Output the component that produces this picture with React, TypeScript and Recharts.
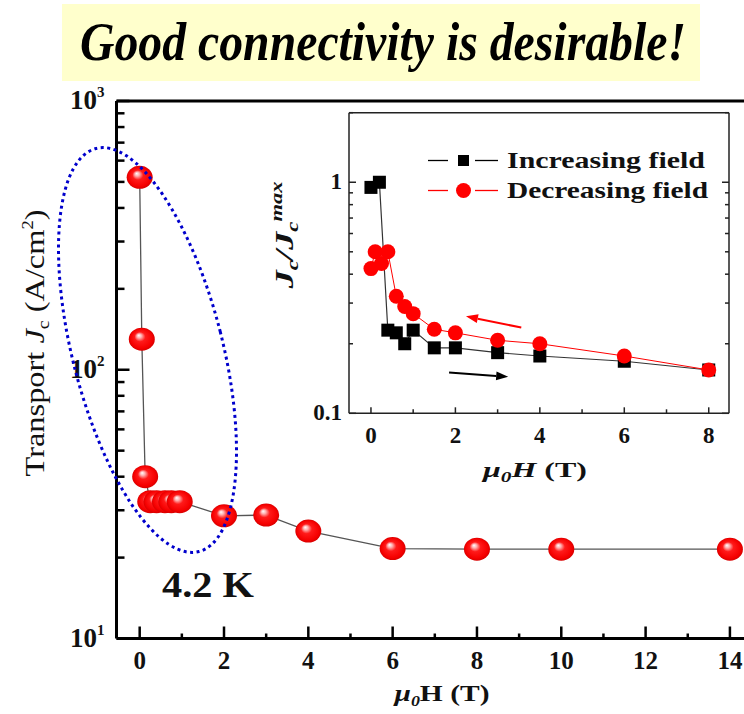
import React from 'react';
import { ScatterChart, Scatter, XAxis, YAxis, ReferenceLine } from 'recharts';

const SERIF = '"Liberation Serif", "Times New Roman", serif';

// main panel: transport Jc vs field at 4.2 K
const fieldT = [0, 0.05, 0.13, 0.25, 0.4, 0.6, 0.75, 0.95, 2, 3, 4, 6, 8, 10, 14];
const jcTransport = [520, 130, 40, 32.3, 32.3, 32.3, 32.3, 32.3, 28.6, 28.8, 25.1, 21.6, 21.5, 21.5, 21.5];
const mainXTicks = [0, 1, 2, 3, 4, 5, 6, 7, 8, 9, 10, 11, 12, 13, 14];
const mainYTicks = [10, 20, 30, 40, 50, 60, 70, 80, 90, 100, 200, 300, 400, 500, 600, 700, 800, 900, 1000];

// inset: Jc / Jc max
const incField = [0, 0.2, 0.4, 0.6, 0.8, 1, 1.5, 2, 3, 4, 6, 8];
const incRatio = [0.95, 1.0, 0.229, 0.223, 0.2, 0.229, 0.192, 0.192, 0.183, 0.177, 0.168, 0.154];
const decField = [0, 0.1, 0.25, 0.4, 0.6, 0.8, 1, 1.5, 2, 3, 4, 6, 8];
const decRatio = [0.423, 0.5, 0.445, 0.5, 0.321, 0.29, 0.27, 0.231, 0.223, 0.207, 0.2, 0.177, 0.154];
const insetXTicks = [0, 1, 2, 3, 4, 5, 6, 7, 8];
const insetYTicks = [0.1, 0.2, 0.3, 0.4, 0.5, 0.6, 0.7, 0.8, 0.9, 1, 2];

// sweep arrows (tail -> head)
const decArrowX = [3.56, 2.25];
const decArrowY = [0.235, 0.263];
const incArrowX = [1.85, 3.25];
const incArrowY = [0.15, 0.144];

function MainXTick(p: any) {
  const { x, y, payload } = p;
  const major = payload.value % 2 === 0;
  return (
    <g>
      <line x1={x} x2={x} y1={y} y2={y - (major ? 12 : 5)} stroke="#000" strokeWidth={2.5} />
      {major && (
        <text x={x} y={y + 30} textAnchor="middle" fontFamily={SERIF} fontWeight="bold" fontSize={25} fill="#111">
          {payload.value}
        </text>
      )}
    </g>
  );
}

function MainYTick(p: any) {
  const { x, y, payload } = p;
  const exp = Math.log10(payload.value);
  const major = Math.abs(exp - Math.round(exp)) < 1e-6;
  return (
    <g>
      <line x1={x} x2={x + (major ? 13 : 8)} y1={y} y2={y} stroke="#000" strokeWidth={2.5} />
      {major && (
        <text x={x - 12} y={y + 8} textAnchor="end" fontFamily={SERIF} fontWeight="bold" fontSize={27} fill="#111">
          10
          <tspan fontSize={15} dy={-12}>
            {Math.round(exp)}
          </tspan>
        </text>
      )}
    </g>
  );
}

function InsetXTick(p: any) {
  const { x, y, payload } = p;
  const major = payload.value % 2 === 0;
  return (
    <g>
      <line x1={x} x2={x} y1={y} y2={y - (major ? 6 : 4)} stroke="#222" strokeWidth={1.5} />
      {major && (
        <text x={x} y={y + 30} textAnchor="middle" fontFamily={SERIF} fontWeight="bold" fontSize={23} fill="#111">
          {payload.value}
        </text>
      )}
    </g>
  );
}

function InsetTopTick(p: any) {
  const { x, y } = p;
  return <line x1={x} x2={x} y1={y} y2={y + 6} stroke="#222" strokeWidth={1.5} />;
}

function InsetYTick(p: any) {
  const { x, y, payload } = p;
  const major = payload.value === 0.1 || payload.value === 1;
  return (
    <g>
      <line x1={x} x2={x + (major ? 7 : 4)} y1={y} y2={y} stroke="#222" strokeWidth={1.5} />
      {major && (
        <text x={x - 7} y={y + 7} textAnchor="end" fontFamily={SERIF} fontWeight="bold" fontSize={23} fill="#111">
          {payload.value}
        </text>
      )}
    </g>
  );
}

function InsetRightTick(p: any) {
  const { x, y, payload } = p;
  const major = payload.value === 0.1 || payload.value === 1;
  return <line x1={x} x2={x - (major ? 7 : 4)} y1={y} y2={y} stroke="#222" strokeWidth={1.5} />;
}

function Sphere(p: any) {
  return <ellipse cx={p.cx} cy={p.cy} rx={13} ry={11.5} fill="url(#sphereGrad)" />;
}

function Square(p: any) {
  return <rect x={p.cx - 6.5} y={p.cy - 6.5} width={13} height={13} fill="#000" />;
}

function Dot(p: any) {
  return <circle cx={p.cx} cy={p.cy} r={7.5} fill="#ff0000" />;
}

function Arrow(p: any) {
  const { x1, y1, x2, y2, stroke } = p;
  const a = Math.atan2(y2 - y1, x2 - x1);
  const L = 12;
  const W = 4.5;
  const bx = x2 - L * Math.cos(a);
  const by = y2 - L * Math.sin(a);
  const pts = `${x2},${y2} ${bx + W * Math.sin(a)},${by - W * Math.cos(a)} ${bx - W * Math.sin(a)},${by + W * Math.cos(a)}`;
  return (
    <g>
      <line x1={x1} y1={y1} x2={bx} y2={by} stroke={stroke} strokeWidth={2} />
      <polygon points={pts} fill={stroke} />
    </g>
  );
}

export default function App() {
  const mainData = fieldT.map((x, i) => ({ x, y: jcTransport[i] }));
  const incData = incField.map((x, i) => ({ x, y: incRatio[i] }));
  const decData = decField.map((x, i) => ({ x, y: decRatio[i] }));

  return (
    <div
      style={{
        position: 'absolute',
        left: 0,
        top: 0,
        width: 744,
        height: 714,
        overflow: 'hidden',
        background: '#fff',
      }}
    >
      <svg width={744} height={714} style={{ position: 'absolute', left: 0, top: 0 }}>
        <defs>
          <radialGradient id="sphereGrad" cx="0.5" cy="0.5" r="0.5" fx="0.38" fy="0.33">
            <stop offset="0" stopColor="#ffffff" />
            <stop offset="0.18" stopColor="#ffb0b0" />
            <stop offset="0.42" stopColor="#ff1a1a" />
            <stop offset="0.85" stopColor="#f50000" />
            <stop offset="1" stopColor="#d80000" />
          </radialGradient>
        </defs>
        <rect x={62} y={4} width={638} height={77} fill="#ffffcc" />
        <text
          transform="translate(80 60) scale(1 1.17)"
          fontFamily={SERIF}
          fontWeight="bold"
          fontStyle="italic"
          fontSize={47}
          textLength={606}
          lengthAdjust="spacingAndGlyphs"
          fill="#000"
        >
          Good connectivity is desirable!
        </text>
      </svg>

      <div style={{ position: 'absolute', left: 0, top: 0 }}>
        <ScatterChart width={760} height={714} margin={{ top: 101, right: 9, bottom: 45.5, left: 56.5 }}>
          <XAxis
            type="number"
            dataKey="x"
            domain={[-0.55, 14.5]}
            ticks={mainXTicks}
            interval={0}
            height={30}
            tickSize={0}
            tickMargin={0}
            tickLine={false}
            allowDataOverflow
            axisLine={{ stroke: '#000', strokeWidth: 3 }}
            tick={(p: any) => <MainXTick {...p} />}
          />
          <YAxis
            type="number"
            dataKey="y"
            scale="log"
            domain={[10, 1000]}
            ticks={mainYTicks}
            interval={0}
            width={60}
            tickSize={0}
            tickMargin={0}
            tickLine={false}
            allowDataOverflow
            axisLine={{ stroke: '#000', strokeWidth: 3 }}
            tick={(p: any) => <MainYTick {...p} />}
          />
          <ReferenceLine y={1000} stroke="#000" strokeWidth={3} />
          <Scatter
            data={mainData}
            line={{ stroke: '#555', strokeWidth: 1.3 }}
            lineType="joint"
            shape={(p: any) => <Sphere {...p} />}
            isAnimationActive={false}
          />
        </ScatterChart>
      </div>

      <div style={{ position: 'absolute', left: 0, top: 0 }}>
        <ScatterChart width={744} height={714} margin={{ top: 102.7, right: 5, bottom: 270.7, left: 289 }}>
          <XAxis
            xAxisId="b"
            type="number"
            dataKey="x"
            domain={[-0.52, 8.48]}
            ticks={insetXTicks}
            interval={0}
            height={30}
            tickSize={0}
            tickMargin={0}
            tickLine={false}
            allowDataOverflow
            axisLine={{ stroke: '#222', strokeWidth: 1.5 }}
            tick={(p: any) => <InsetXTick {...p} />}
          />
          <XAxis
            xAxisId="t"
            orientation="top"
            type="number"
            domain={[-0.52, 8.48]}
            ticks={insetXTicks}
            interval={0}
            height={10}
            tickSize={0}
            tickMargin={0}
            tickLine={false}
            allowDataOverflow
            axisLine={{ stroke: '#222', strokeWidth: 1.5 }}
            tick={(p: any) => <InsetTopTick {...p} />}
          />
          <YAxis
            yAxisId="l"
            type="number"
            dataKey="y"
            scale="log"
            domain={[0.1, 2]}
            ticks={insetYTicks}
            interval={0}
            width={60}
            tickSize={0}
            tickMargin={0}
            tickLine={false}
            allowDataOverflow
            axisLine={{ stroke: '#222', strokeWidth: 1.5 }}
            tick={(p: any) => <InsetYTick {...p} />}
          />
          <YAxis
            yAxisId="r"
            orientation="right"
            type="number"
            scale="log"
            domain={[0.1, 2]}
            ticks={insetYTicks}
            interval={0}
            width={10}
            tickSize={0}
            tickMargin={0}
            tickLine={false}
            allowDataOverflow
            axisLine={{ stroke: '#222', strokeWidth: 1.5 }}
            tick={(p: any) => <InsetRightTick {...p} />}
          />
          <ReferenceLine
            xAxisId="b"
            yAxisId="l"
            segment={[
              { x: decArrowX[0], y: decArrowY[0] },
              { x: decArrowX[1], y: decArrowY[1] },
            ]}
            stroke="#ff0000"
            shape={(p: any) => <Arrow {...p} stroke="#ff0000" />}
          />
          <ReferenceLine
            xAxisId="b"
            yAxisId="l"
            segment={[
              { x: incArrowX[0], y: incArrowY[0] },
              { x: incArrowX[1], y: incArrowY[1] },
            ]}
            stroke="#000"
            shape={(p: any) => <Arrow {...p} stroke="#000" />}
          />
          <Scatter
            xAxisId="b"
            yAxisId="l"
            data={incData}
            line={{ stroke: '#333', strokeWidth: 1.2 }}
            lineType="joint"
            shape={(p: any) => <Square {...p} />}
            isAnimationActive={false}
          />
          <Scatter
            xAxisId="b"
            yAxisId="l"
            data={decData}
            line={{ stroke: '#ff0000', strokeWidth: 1 }}
            lineType="joint"
            shape={(p: any) => <Dot {...p} />}
            isAnimationActive={false}
          />
        </ScatterChart>
      </div>

      <svg width={744} height={714} style={{ position: 'absolute', left: 0, top: 0, pointerEvents: 'none' }}>
        <ellipse
          cx={147.5}
          cy={350}
          rx={75}
          ry={208}
          transform="rotate(-14.3 147.5 350)"
          fill="none"
          stroke="#0000cc"
          strokeWidth={3}
          strokeDasharray="3 3.5"
        />
        <text x={162} y={597} fontFamily={SERIF} fontWeight="bold" fontSize={35} textLength={92} lengthAdjust="spacingAndGlyphs" fill="#111">
          4.2 K
        </text>
        <text
          transform="translate(44 343) rotate(-90)"
          textAnchor="middle"
          fontFamily={SERIF}
          fontSize={28}
          textLength={267}
          lengthAdjust="spacingAndGlyphs"
          fill="#111"
        >
          Transport <tspan fontStyle="italic">J</tspan>
          <tspan fontSize={17} dy={5}>c</tspan>
          <tspan dy={-5}> (A/cm</tspan>
          <tspan fontSize={16} dy={-11}>2</tspan>
          <tspan dy={11}>)</tspan>
        </text>
        <text x={442} y={701} textAnchor="middle" fontFamily={SERIF} fontWeight="bold" fontSize={23} textLength={95} lengthAdjust="spacingAndGlyphs" fill="#111">
          <tspan fontStyle="italic">μ</tspan>
          <tspan fontStyle="italic" fontSize={14} dy={5}>0</tspan>
          <tspan dy={-5}>H (T)</tspan>
        </text>

        <text x={535} y={477} textAnchor="middle" fontFamily={SERIF} fontWeight="bold" fontSize={21} textLength={104} lengthAdjust="spacingAndGlyphs" fill="#111">
          <tspan fontStyle="italic">μ</tspan>
          <tspan fontStyle="italic" fontSize={14} dy={5}>0</tspan>
          <tspan fontStyle="italic" dy={-5}>H</tspan>
          <tspan> (T)</tspan>
        </text>
        <text
          transform="translate(293 235) rotate(-90)"
          textAnchor="middle"
          fontFamily={SERIF}
          fontWeight="bold"
          fontStyle="italic"
          fontSize={26}
          textLength={107}
          lengthAdjust="spacingAndGlyphs"
          fill="#111"
        >
          J<tspan fontSize={16} dy={5}>c</tspan>
          <tspan dy={-5}>/J</tspan>
          <tspan fontSize={16} dy={5}>c</tspan>
          <tspan fontSize={16} dy={-16}>max</tspan>
        </text>

        <line x1={428} x2={448} y1={160.5} y2={160.5} stroke="#000" strokeWidth={1.3} />
        <line x1={475} x2={498} y1={160.5} y2={160.5} stroke="#000" strokeWidth={1.3} />
        <rect x={458} y={155} width={11} height={11} fill="#000" />
        <text x={507} y={168} fontFamily={SERIF} fontWeight="bold" fontSize={23} textLength={198} lengthAdjust="spacingAndGlyphs" fill="#111">
          Increasing field
        </text>
        <line x1={428} x2={448} y1={190.5} y2={190.5} stroke="#ff0000" strokeWidth={1.3} />
        <line x1={475} x2={498} y1={190.5} y2={190.5} stroke="#ff0000" strokeWidth={1.3} />
        <circle cx={463.5} cy={190.5} r={7.5} fill="#ff0000" />
        <text x={507} y={198} fontFamily={SERIF} fontWeight="bold" fontSize={23} textLength={201} lengthAdjust="spacingAndGlyphs" fill="#111">
          Decreasing field
        </text>
      </svg>
    </div>
  );
}
